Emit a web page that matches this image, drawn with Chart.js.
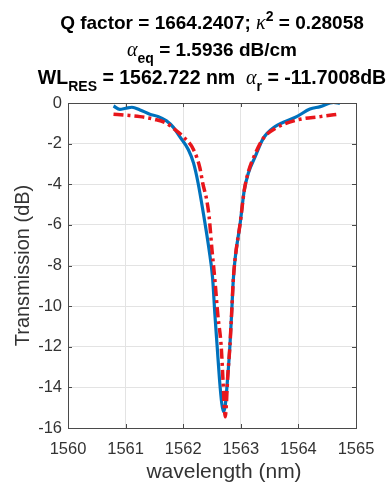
<!DOCTYPE html>
<html>
<head>
<meta charset="utf-8">
<script src="https://cdn.jsdelivr.net/npm/chart.js@4"></script>
<style>
html,body{margin:0;padding:0;background:#fff;overflow:hidden;}
#wrap{position:relative;width:390px;height:483px;}
canvas{position:absolute;left:0;top:0;}
.tl{position:absolute;left:34px;width:356px;text-align:center;white-space:nowrap;font-family:"Liberation Sans",Arial,sans-serif;font-weight:bold;font-size:19px;color:#000;line-height:20px;}
.g{font-family:"Liberation Serif","Times New Roman",serif;font-style:italic;font-weight:normal;font-size:20px;}
.sb{font-size:14px;line-height:0;vertical-align:-0.5em;}
.sp{font-size:14px;line-height:0;vertical-align:0.55em;}
</style>
</head>
<body>
<div id="wrap">
<canvas id="c" width="390" height="483"></canvas>
<div class="tl" style="top:12px">Q factor = 1664.2407; <span class="g">κ</span><span class="sp">2</span> = 0.28058</div>
<div class="tl" style="top:39px"><span class="g">α</span><span class="sb">eq</span> = 1.5936 dB/cm</div>
<div class="tl" style="top:67px;font-size:19.5px">WL<span class="sb">RES</span> = 1562.722 nm &nbsp;<span class="g">α</span><span class="sb">r</span> = -11.7008dB</div>
</div>
<script>
// measured transmission (blue)
const measWl = [1560.79,1560.90,1561.00,1561.11,1561.25,1561.42,1561.56,1561.71,1561.83,1561.94,1562.09,1562.18,1562.26,1562.36,1562.45,1562.51,1562.55,1562.59,1562.63,1562.67,1562.70,1562.73,1562.77,1562.81,1562.84,1562.87,1562.90,1562.99,1563.06,1563.13,1563.25,1563.39,1563.59,1563.74,1563.97,1564.20,1564.38,1564.61,1564.72];
const measDb = [-0.15,-0.31,-0.26,-0.21,-0.34,-0.55,-0.66,-0.88,-1.2,-1.66,-2.3,-2.96,-3.96,-5.6,-7.24,-8.6,-10.4,-12.0,-13.6,-14.8,-15.2,-14.9,-13.6,-12.0,-10.4,-8.7,-7.7,-5.9,-4.3,-3.46,-2.64,-1.74,-1.17,-0.95,-0.67,-0.30,-0.18,0.03,-0.02];
// fitted curve (red dash-dot)
const fitWl = [1560.79,1561.00,1561.25,1561.50,1561.70,1561.83,1562.00,1562.18,1562.29,1562.34,1562.41,1562.45,1562.50,1562.55,1562.60,1562.66,1562.69,1562.71,1562.73,1562.75,1562.77,1562.81,1562.84,1562.87,1562.90,1562.99,1563.06,1563.13,1563.25,1563.39,1563.60,1563.97,1564.38,1564.72];
const fitDb = [-0.55,-0.6,-0.67,-0.8,-0.98,-1.25,-1.66,-2.3,-3.2,-3.96,-4.8,-5.6,-7.24,-8.7,-10.4,-12.0,-13.6,-14.8,-15.45,-14.8,-13.6,-12.0,-10.4,-8.7,-7.7,-5.9,-4.3,-3.4,-2.5,-1.74,-1.25,-0.84,-0.67,-0.54];
const xTicks = [1560,1561,1562,1563,1564,1565];
const yTicks = [0,-2,-4,-6,-8,-10,-12,-14,-16];
const xLabel = 'wavelength (nm)';

const AX = '#4a4a4a';
const FONT = '"Liberation Sans", Arial, sans-serif';
const boxPlugin = {
  id:'box',
  afterDraw(chart){
    const {ctx, chartArea:a, scales} = chart;
    ctx.save();
    ctx.strokeStyle = AX; ctx.lineWidth = 1;
    ctx.strokeRect(a.left+0.5, a.top+0.5, a.right-a.left, a.bottom-a.top);
    ctx.beginPath();
    xTicks.forEach(v=>{const x=Math.round(scales.x.getPixelForValue(v))+0.5;
      ctx.moveTo(x,a.bottom); ctx.lineTo(x,a.bottom-4);
      ctx.moveTo(x,a.top); ctx.lineTo(x,a.top+4);});
    yTicks.forEach(v=>{const y=Math.round(scales.y.getPixelForValue(v))+0.5;
      ctx.moveTo(a.left,y); ctx.lineTo(a.left+4,y);
      ctx.moveTo(a.right,y); ctx.lineTo(a.right-4,y);});
    ctx.stroke();
    // x axis title
    ctx.fillStyle = '#333';
    ctx.font = '21px ' + FONT;
    ctx.textAlign = 'center'; ctx.textBaseline = 'middle';
    ctx.fillText(xLabel, (a.left+a.right)/2 + 12, 472.5);
    ctx.restore();
  }
};

new Chart(document.getElementById('c'), {
  type:'scatter',
  data:{datasets:[
    {data: measWl.map((w,i)=>({x:w,y:measDb[i]})), showLine:true, borderColor:'#0072BD', borderWidth:3.2, pointRadius:0, cubicInterpolationMode:'monotone', order:2},
    {data: fitWl.map((w,i)=>({x:w,y:fitDb[i]})), showLine:true, borderColor:'#E8161B', borderWidth:3.5, borderDash:[10,4,3,4], pointRadius:0, cubicInterpolationMode:'monotone', order:1}
  ]},
  plugins:[boxPlugin],
  options:{
    responsive:false, animation:false, devicePixelRatio:1,
    layout:{padding:{left:0,top:103,right:34,bottom:0}},
    plugins:{legend:{display:false},tooltip:{enabled:false}},
    scales:{
      x:{type:'linear',min:1560,max:1565,
        afterBuildTicks(s){s.ticks = xTicks.map(v=>({value:v}));},
        afterFit(s){s.height=55;},
        grid:{color:'#e3e3e3',drawTicks:false},border:{display:false},
        ticks:{color:'#333',font:{family:FONT,size:16.5},padding:12,maxRotation:0,callback:v=>String(v)},
        title:{display:false}
      },
      y:{type:'linear',min:-16,max:0,
        afterBuildTicks(s){s.ticks = yTicks.map(v=>({value:v}));},
        afterFit(s){s.width=68;},
        grid:{color:'#e3e3e3',drawTicks:false},border:{display:false},
        ticks:{color:'#333',font:{family:FONT,size:16.5},padding:6,callback:v=>String(v)},
        title:{display:true,text:'Transmission (dB)',color:'#333',font:{family:FONT,size:20,lineHeight:1},padding:{top:13,bottom:0}}
      }
    }
  }
});
</script>
</body>
</html>
